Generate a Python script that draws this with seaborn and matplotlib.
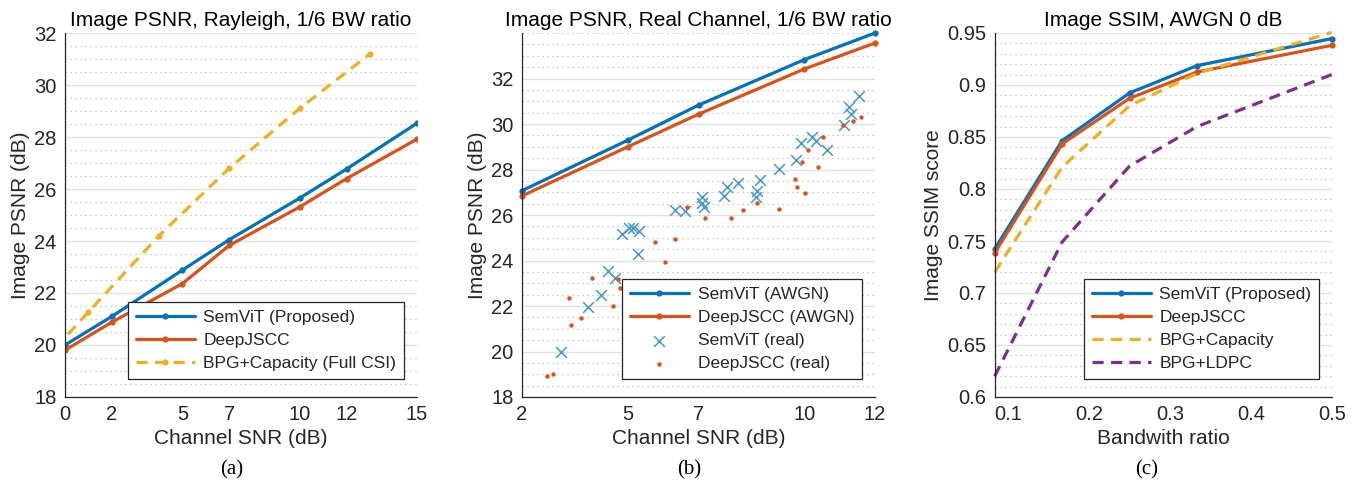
import matplotlib
matplotlib.use("Agg")
import matplotlib.pyplot as plt
from matplotlib.ticker import MultipleLocator, FixedLocator
import pandas as pd
import seaborn as sns

sns.set_theme(style="whitegrid")
plt.rcParams["font.family"] = ["Liberation Sans", "DejaVu Sans"]

BLUE = "#0072BD"
ORANGE = "#D95319"
YELLOW = "#EDB120"
PURPLE = "#7E2F8E"
LIGHT_BLUE = "#4797d6"

# (a) Rayleigh, 1/6 BW ratio
snr_a = [0, 2, 5, 7, 10, 12, 15]
semvit_a = [20.0, 21.1, 22.88, 24.05, 25.65, 26.77, 28.53]
deepjscc_a = [19.8, 20.88, 22.36, 23.83, 25.31, 26.4, 27.92]
bpg_snr_a = [-2, 1, 4, 7, 10, 13]
bpg_a = [18.3, 21.27, 24.2, 26.8, 29.1, 31.2]

# (b) real channel, 1/6 BW ratio
snr_b = [2, 5, 7, 10, 12]
semvit_b = [27.07, 29.29, 30.83, 32.83, 34.0]
deepjscc_b = [26.84, 29.0, 30.43, 32.42, 33.56]
semvit_real_snr = [3.10, 3.88, 4.24, 4.45, 4.64, 4.82, 5.03, 5.15, 5.32, 5.28,
                   6.33, 6.62, 7.09, 7.09, 7.16, 7.72, 7.80, 8.13, 8.62, 8.67,
                   8.75, 9.27, 9.77, 9.90, 10.21, 10.33, 10.64, 11.11, 11.26,
                   11.31, 11.55]
semvit_real = [20.0, 21.97, 22.47, 23.54, 23.25, 25.15, 25.44, 25.42, 25.31,
               24.27, 26.22, 26.18, 26.77, 26.51, 26.33, 26.83, 27.24, 27.39,
               26.80, 27.06, 27.56, 28.04, 28.41, 29.17, 29.43, 29.26, 28.85,
               29.95, 30.74, 30.45, 31.23]
deepjscc_real_snr = [2.72, 2.89, 3.34, 3.39, 3.68, 3.99, 4.57, 4.72, 4.78, 5.77,
                     6.04, 6.34, 6.68, 7.17, 7.92, 8.27, 8.65, 9.29, 9.72, 9.79,
                     9.92, 10.02, 10.09, 10.38, 10.54, 11.10, 11.39, 11.60]
deepjscc_real = [18.93, 19.02, 22.36, 21.16, 21.47, 23.22, 21.98, 23.19, 22.81,
                 24.80, 23.94, 24.93, 26.36, 25.88, 25.87, 26.21, 26.51, 26.25,
                 27.59, 27.23, 28.31, 26.98, 28.85, 28.10, 29.41, 29.95, 30.15,
                 30.32]

# (c) SSIM vs bandwidth ratio, AWGN 0 dB
bw_c = [1 / 12, 1 / 6, 1 / 4, 1 / 3, 1 / 2]
semvit_c = [0.7423, 0.8465, 0.8923, 0.9186, 0.9446]
deepjscc_c = [0.7385, 0.8433, 0.8872, 0.9125, 0.9381]
bpg_cap_c = [0.72, 0.821, 0.880, 0.911, 0.9506]
bpg_ldpc_c = [0.62, 0.749, 0.822, 0.860, 0.910]

W, H = 1356, 487
fig = plt.figure(figsize=(W / 100, H / 100), dpi=100)


def make_ax(left_px, right_px):
    ax = fig.add_axes([left_px / W, 1 - 397 / H, (right_px - left_px) / W, 364 / H])
    ax.set_facecolor("white")
    for side in ("top", "right"):
        ax.spines[side].set_visible(False)
    for side in ("left", "bottom"):
        ax.spines[side].set_color("#262626")
        ax.spines[side].set_linewidth(0.9)
    ax.tick_params(axis="both", which="major", direction="in", length=4,
                   width=0.8, color="#262626", labelsize=14.5,
                   labelcolor="#262626", pad=6)
    ax.tick_params(axis="both", which="minor", length=0)
    ax.grid(False)
    ax.grid(True, which="major", axis="y", color="#e2e2e2", linewidth=1.0)
    ax.grid(True, which="minor", axis="y", color="#bdbdbd", linewidth=0.9,
            linestyle=(0, (1, 3)))
    ax.set_axisbelow(True)
    return ax


def style_text(ax, title, xlabel, ylabel):
    ax.set_title(title, fontsize=15, color="black", pad=5)
    ax.set_xlabel(xlabel, fontsize=15, color="#262626", labelpad=3)
    ax.set_ylabel(ylabel, fontsize=15, color="#262626", labelpad=3)


def add_legend(ax):
    leg = ax.legend(loc="lower right", bbox_to_anchor=(0.963, 0.049),
                    fontsize=12.5, frameon=True, fancybox=False, framealpha=1,
                    edgecolor="#262626", handlelength=3.4, handletextpad=0.5,
                    labelspacing=0.45, borderpad=0.45, borderaxespad=0,
                    numpoints=1, scatterpoints=1)
    leg.get_frame().set_linewidth(0.9)
    return leg


line_kw = dict(linewidth=2.3, marker="o", markersize=4.5, markeredgewidth=0)

# ---- panel (a)
ax = make_ax(65, 417)
sns.lineplot(x=snr_a, y=semvit_a, ax=ax, color=BLUE, label="SemViT (Proposed)",
             **line_kw)
sns.lineplot(x=snr_a, y=deepjscc_a, ax=ax, color=ORANGE, label="DeepJSCC",
             **line_kw)
sns.lineplot(x=bpg_snr_a, y=bpg_a, ax=ax, color=YELLOW,
             label="BPG+Capacity (Full CSI)", linestyle=(0, (3.5, 2.3)),
             **line_kw)
ax.set_xlim(0, 15)
ax.set_ylim(18, 32)
ax.xaxis.set_major_locator(FixedLocator([0, 2, 5, 7, 10, 12, 15]))
ax.yaxis.set_major_locator(MultipleLocator(2))
ax.yaxis.set_minor_locator(MultipleLocator(0.5))
style_text(ax, "Image PSNR, Rayleigh, 1/6 BW ratio", "Channel SNR (dB)",
           "Image PSNR (dB)")
add_legend(ax)

# ---- panel (b)
ax = make_ax(522, 875)
sns.lineplot(x=snr_b, y=semvit_b, ax=ax, color=BLUE, label="SemViT (AWGN)",
             clip_on=False, **line_kw)
sns.lineplot(x=snr_b, y=deepjscc_b, ax=ax, color=ORANGE,
             label="DeepJSCC (AWGN)", clip_on=False, **line_kw)
sns.scatterplot(x=semvit_real_snr, y=semvit_real, ax=ax, marker="x",
                color=LIGHT_BLUE, s=60, linewidth=1.1, label="SemViT (real)")
sns.scatterplot(x=deepjscc_real_snr, y=deepjscc_real, ax=ax, marker="o",
                color=ORANGE, s=10, linewidth=0, label="DeepJSCC (real)")
ax.set_xlim(2, 12)
ax.set_ylim(18, 34)
ax.xaxis.set_major_locator(FixedLocator([2, 5, 7, 10, 12]))
ax.yaxis.set_major_locator(FixedLocator([18, 20, 22, 24, 26, 28, 30, 32]))
ax.yaxis.set_minor_locator(MultipleLocator(0.5))
style_text(ax, "Image PSNR, Real Channel, 1/6 BW ratio", "Channel SNR (dB)",
           "Image PSNR (dB)")
add_legend(ax)

# ---- panel (c)
ax = make_ax(994.7, 1331.7)
sns.lineplot(x=bw_c, y=semvit_c, ax=ax, color=BLUE, label="SemViT (Proposed)",
             clip_on=False, **line_kw)
sns.lineplot(x=bw_c, y=deepjscc_c, ax=ax, color=ORANGE, label="DeepJSCC",
             clip_on=False, **line_kw)
sns.lineplot(x=bw_c, y=bpg_cap_c, ax=ax, color=YELLOW, label="BPG+Capacity",
             linewidth=2.3, linestyle=(0, (3.5, 2.3)), clip_on=False)
sns.lineplot(x=bw_c, y=bpg_ldpc_c, ax=ax, color=PURPLE, label="BPG+LDPC",
             linewidth=2.3, linestyle=(0, (3.5, 2.3)), clip_on=False)
ax.set_xlim(1 / 12, 0.5)
ax.set_ylim(0.6, 0.95)
ax.xaxis.set_major_locator(FixedLocator([0.1, 0.2, 0.3, 0.4, 0.5]))
ax.yaxis.set_major_locator(MultipleLocator(0.05))
ax.yaxis.set_minor_locator(MultipleLocator(0.01))
ax.yaxis.set_major_formatter(plt.FuncFormatter(lambda v, p: f"{v:g}"))
ax.xaxis.set_major_formatter(plt.FuncFormatter(lambda v, p: f"{v:g}"))
style_text(ax, "Image SSIM, AWGN 0 dB", "Bandwith ratio", "Image SSIM score")
add_legend(ax)

# captions
for cx, cap in [(232, "(a)"), (689, "(b)"), (1147, "(c)")]:
    fig.text(cx / W, 1 - 470 / H, cap, ha="center", va="center", fontsize=15,
             family=["Liberation Serif", "DejaVu Serif"], color="black")

fig.savefig("out.png", dpi=100)
